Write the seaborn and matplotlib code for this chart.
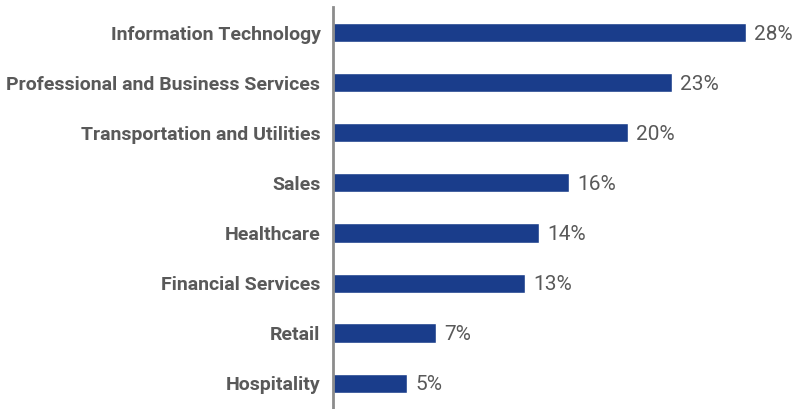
import matplotlib
matplotlib.use("Agg")
import matplotlib.pyplot as plt
from matplotlib import font_manager
import seaborn as sns
import pandas as pd

categories = [
    "Information Technology",
    "Professional and Business Services",
    "Transportation and Utilities",
    "Sales",
    "Healthcare",
    "Financial Services",
    "Retail",
    "Hospitality",
]
shares = [28, 23, 20, 16, 14, 13, 7, 5]
value_labels = ["28%", "23%", "20%", "16%", "14%", "13%", "7%", "5%"]

sns.set_theme(style="white")

names = {f.name for f in font_manager.fontManager.ttflist}
family = "Liberation Sans Narrow" if "Liberation Sans Narrow" in names else "Roboto"
plt.rcParams["font.family"] = [family, "DejaVu Sans"]

df = pd.DataFrame({"category": categories, "share": shares})

fig = plt.figure(figsize=(8.09, 4.09), dpi=100)
ax = fig.add_axes([333 / 809, 0, 476 / 809, 402 / 409])

sns.barplot(data=df, x="share", y="category", orient="h", color="#1a3d8b",
            saturation=1, width=0.38, ax=ax)

ax.set_xlim(0, 32.3)
ax.set_ylim(7.52, -0.52)
ax.set_xlabel("")
ax.set_ylabel("")
ax.set_xticks([])

for side in ("top", "right", "bottom"):
    ax.spines[side].set_visible(False)
ax.spines["left"].set_color("#8c8c8c")
ax.spines["left"].set_linewidth(2)

ax.tick_params(axis="y", length=0, pad=9)
for lbl in ax.get_yticklabels():
    lbl.set_fontsize(14)
    lbl.set_fontweight("bold")
    lbl.set_color("#595959")

for i, (v, t) in enumerate(zip(shares, value_labels)):
    ax.annotate(t, xy=(v, i), xytext=(6, -1), textcoords="offset points",
                va="center", ha="left", fontsize=15, color="#595959")

fig.savefig("out.png", dpi=100)
